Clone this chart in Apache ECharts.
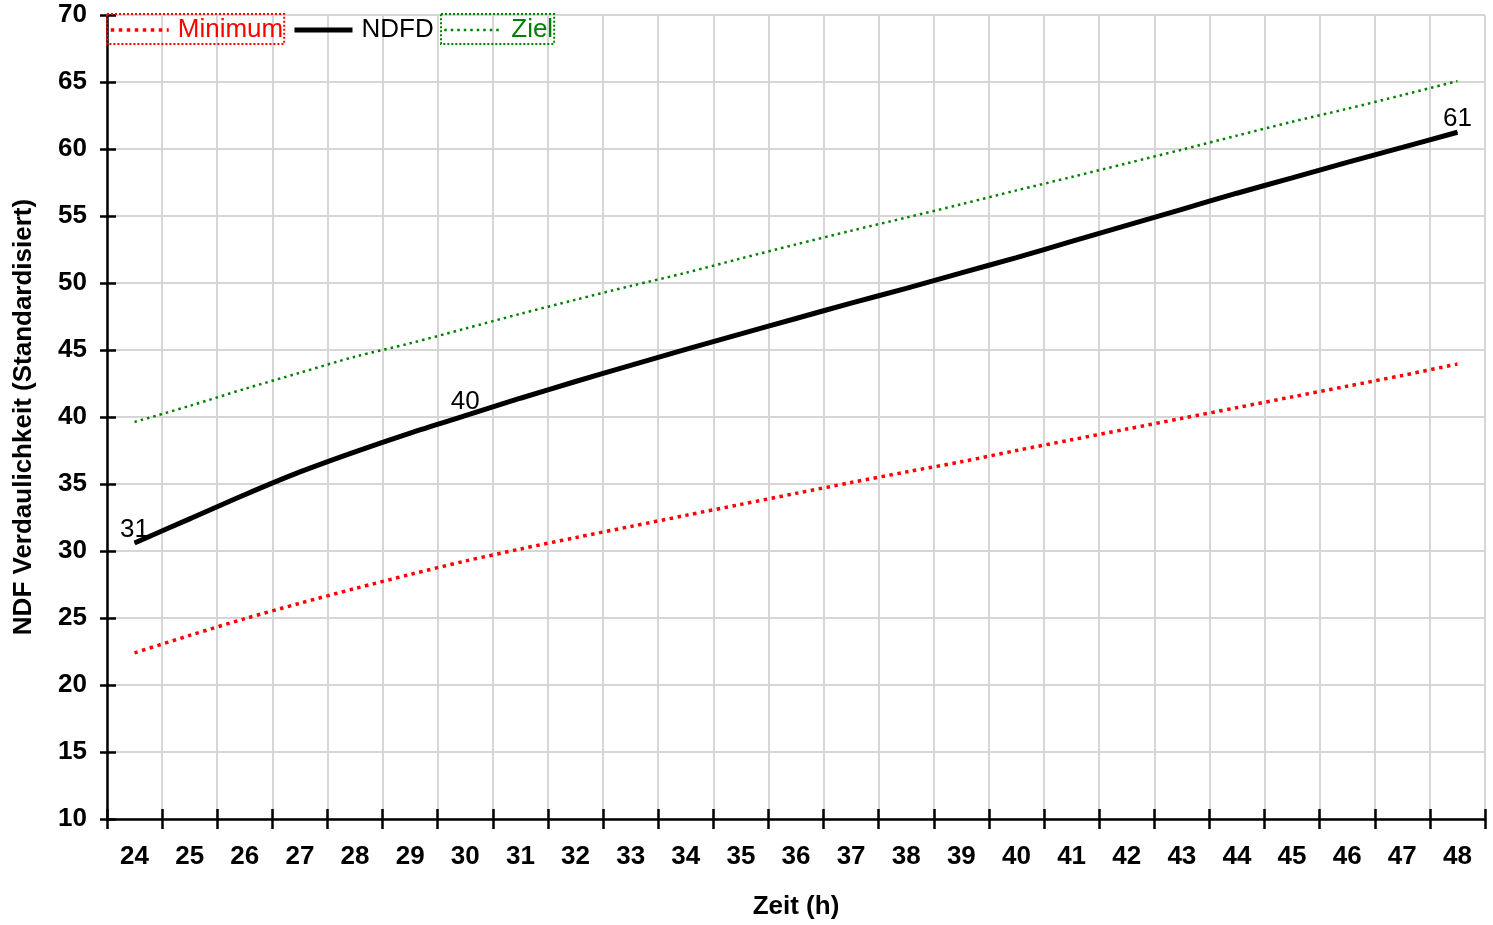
<!DOCTYPE html>
<html>
<head>
<meta charset="utf-8">
<script src="https://cdn.jsdelivr.net/npm/echarts@6/dist/echarts.min.js"></script>
<style>
html,body{margin:0;padding:0;background:#fff;}
#chart{width:1493px;height:925px;}
</style>
</head>
<body>
<div id="chart"></div>
<script>
const hours = ['24','25','26','27','28','29','30','31','32','33','34','35','36','37','38','39','40','41','42','43','44','45','46','47','48'];
const yTicks = { min: 10, max: 70, interval: 5 };
const minimum = [22.4, 23.7, 24.95, 26.1, 27.2, 28.25, 29.25, 30.15, 31.0, 31.83, 32.66, 33.48, 34.3, 35.11, 35.9, 36.66, 37.5, 38.3, 39.1, 39.9, 40.7, 41.5, 42.3, 43.1, 43.95];
const ndfd = [30.6, 32.4, 34.2, 35.9, 37.4, 38.8, 40.1, 41.4, 42.65, 43.85, 45.05, 46.2, 47.35, 48.5, 49.6, 50.75, 51.9, 53.1, 54.3, 55.5, 56.7, 57.85, 59.0, 60.12, 61.25];
const ziel = [39.63, 40.83, 42.1, 43.3, 44.5, 45.5, 46.6, 47.7, 48.75, 49.78, 50.76, 51.83, 52.88, 53.9, 54.88, 55.88, 56.91, 57.91, 58.93, 59.95, 61.0, 62.03, 63.0, 64.02, 65.07];
const labelledPoints = [0, 6, 24];

const FONT = "'Liberation Sans', Arial, sans-serif";
const chart = echarts.init(document.getElementById('chart'), null, { renderer: 'canvas' });

const ndfdData = ndfd.map((v, i) => labelledPoints.includes(i)
  ? { value: v, label: { show: true } }
  : v);

const legendBase = {
  orient: 'horizontal',
  top: 14,
  itemWidth: 58,
  itemHeight: 14,
  itemGap: 0,
  selectedMode: false,
  padding: [3, 1, 1, 2],
  itemStyle: { opacity: 0, borderWidth: 0 },
  textStyle: { fontSize: 26, fontFamily: FONT, padding: [2, 0, 0, 4] }
};

const option = {
  animation: false,
  backgroundColor: '#fff',
  textStyle: { fontFamily: FONT },
  grid: { left: 107, top: 15, right: 8, bottom: 102, containLabel: false },
  legend: [
    Object.assign({}, legendBase, {
      left: 107, data: ['Minimum'],
      borderColor: '#ff0000', borderWidth: 2, borderType: 'dotted',
      lineStyle: { width: 3.5, type: [3.5, 4.5], color: '#ff0000' },
      textStyle: Object.assign({}, legendBase.textStyle, { color: '#ff0000' })
    }),
    Object.assign({}, legendBase, {
      left: 290, data: ['NDFD'],
      lineStyle: { width: 5, color: '#000' },
      textStyle: Object.assign({}, legendBase.textStyle, { color: '#000' })
    }),
    Object.assign({}, legendBase, {
      left: 441, data: ['Ziel'],
      borderColor: '#008000', borderWidth: 2, borderType: 'dotted',
      lineStyle: { width: 2.5, type: [2.5, 4], color: '#008000' },
      textStyle: Object.assign({}, legendBase.textStyle, { color: '#008000' })
    })
  ],
  xAxis: [
    {
      type: 'category', data: hours, position: 'bottom', boundaryGap: true,
      name: 'Zeit (h)', nameLocation: 'middle', nameGap: 75,
      nameTextStyle: { fontSize: 26, fontWeight: 'bold', color: '#000', fontFamily: FONT },
      axisLine: { show: true, lineStyle: { color: '#000', width: 2.5 } },
      axisTick: { show: true, inside: false, length: 10, lineStyle: { color: '#000', width: 2.5 } },
      axisLabel: { fontSize: 26, fontWeight: 'bold', color: '#000', margin: 25, fontFamily: FONT, interval: 0 },
      splitLine: { show: true, lineStyle: { color: '#d6d6d6', width: 2 } }
    },
    {
      type: 'category', data: hours, position: 'bottom', boundaryGap: true,
      axisLine: { show: false },
      axisTick: { show: true, inside: true, length: 10, lineStyle: { color: '#000', width: 2.5 } },
      axisLabel: { show: false },
      splitLine: { show: false }
    }
  ],
  yAxis: [
    {
      type: 'value', min: yTicks.min, max: yTicks.max, interval: yTicks.interval, position: 'left',
      name: 'NDF Verdaulichkeit (Standardisiert)', nameLocation: 'middle', nameGap: 70,
      nameTextStyle: { fontSize: 26, fontWeight: 'bold', color: '#000', fontFamily: FONT },
      axisLine: { show: true, lineStyle: { color: '#000', width: 2.5 } },
      axisTick: { show: true, inside: false, length: 7, lineStyle: { color: '#000', width: 2.5 } },
      axisLabel: { fontSize: 26, fontWeight: 'bold', color: '#000', margin: 20, fontFamily: FONT },
      splitLine: { show: true, lineStyle: { color: '#d6d6d6', width: 2 } }
    },
    {
      type: 'value', min: yTicks.min, max: yTicks.max, interval: yTicks.interval, position: 'left',
      axisLine: { show: false },
      axisTick: { show: true, inside: true, length: 9, lineStyle: { color: '#000', width: 2.5 } },
      axisLabel: { show: false },
      splitLine: { show: false }
    }
  ],
  series: [
    {
      name: 'Minimum', type: 'line', data: minimum, xAxisIndex: 0, yAxisIndex: 0,
      symbol: 'none', smooth: 0.3, z: 3,
      itemStyle: { color: '#ff0000' },
      lineStyle: { color: '#ff0000', width: 3.5, type: [3.5, 4.5] }
    },
    {
      name: 'NDFD', type: 'line', data: ndfdData, xAxisIndex: 0, yAxisIndex: 0,
      symbol: 'circle', symbolSize: 1, showSymbol: true, showAllSymbol: true, smooth: 0.3, z: 4,
      itemStyle: { color: '#000' },
      lineStyle: { color: '#000', width: 5 },
      label: {
        show: false, position: 'top', distance: 0, fontSize: 26, color: '#000', fontFamily: FONT,
        formatter: p => String(Math.round(p.value))
      }
    },
    {
      name: 'Ziel', type: 'line', data: ziel, xAxisIndex: 0, yAxisIndex: 0,
      symbol: 'none', smooth: 0.3, z: 3,
      itemStyle: { color: '#008000' },
      lineStyle: { color: '#008000', width: 2.5, type: [2.5, 4] }
    }
  ]
};
chart.setOption(option);
</script>
</body>
</html>
